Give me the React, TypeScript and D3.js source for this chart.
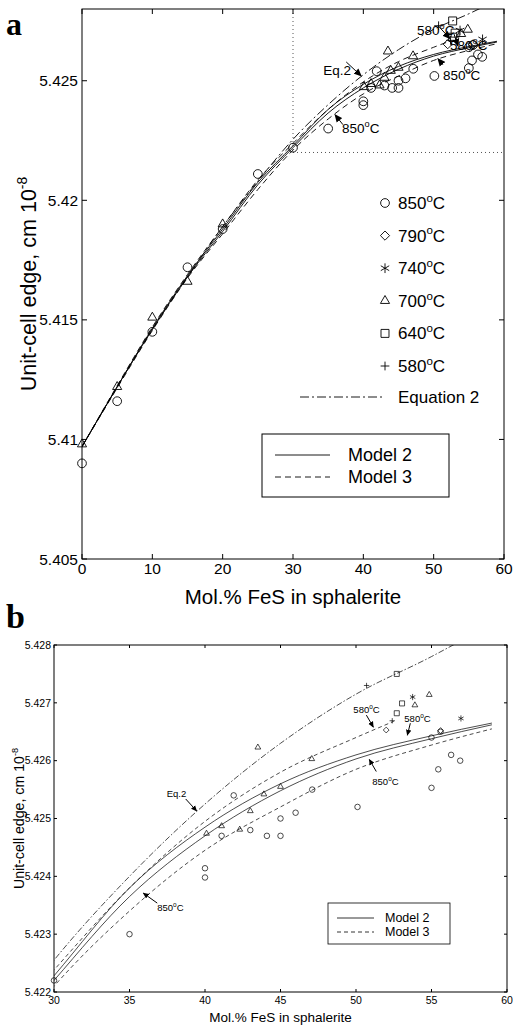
import React from 'react';
import * as d3 from 'd3';

type Pt = [number, number];

// model curves, x = mol.% FeS, y = unit-cell edge (cm 10^-8)
const model2_850: Pt[] = [[0, 5.4097], [5, 5.4122], [10, 5.4146], [15, 5.4168], [20, 5.4187], [25, 5.42065], [30, 5.4222], [35, 5.42365], [40, 5.4247], [45, 5.42548], [50, 5.42603], [55, 5.42638], [59, 5.42662]];
const model2_580: Pt[] = [[0, 5.4097], [5, 5.4122], [10, 5.41465], [15, 5.41685], [20, 5.4188], [25, 5.42075], [30, 5.42228], [35, 5.4238], [40, 5.42485], [45, 5.4256], [50, 5.4261], [55, 5.42643], [59, 5.42665]];
const model3_850: Pt[] = [[0, 5.4097], [5, 5.41215], [10, 5.41455], [15, 5.41675], [20, 5.4186], [25, 5.42045], [30, 5.4221], [35, 5.4234], [40, 5.42445], [45, 5.4252], [50, 5.42585], [55, 5.42627], [59, 5.42655]];
const model3_580: Pt[] = [[0, 5.4097], [5, 5.41225], [10, 5.4147], [15, 5.4169], [20, 5.4189], [25, 5.42085], [30, 5.42238], [35, 5.4238], [40, 5.42495], [45, 5.4258], [50, 5.4264], [52.5, 5.42668]];
const eq2: Pt[] = [[0, 5.4097], [5, 5.4122], [10, 5.4146], [15, 5.4168], [20, 5.4189], [25, 5.4208], [30, 5.42255], [35, 5.424], [40, 5.42525], [45, 5.4263], [50, 5.42715], [55, 5.4278], [57, 5.42808]];

// measured points by temperature
const pts850: Pt[] = [[0, 5.409], [5, 5.4116], [10, 5.4145], [15, 5.4172], [20, 5.4188], [25, 5.4211], [30, 5.4222], [35, 5.423], [40, 5.42414], [40, 5.42398], [41.1, 5.4247], [41.9, 5.4254], [43, 5.4248], [44.1, 5.4247], [45, 5.4247], [45, 5.425], [46, 5.4251], [47.1, 5.4255], [50.1, 5.4252], [55, 5.4264], [55.6, 5.4265], [56.3, 5.4261], [56.9, 5.426], [55.45, 5.42585], [55, 5.42553]];
const pts790: Pt[] = [[52, 5.42653], [55.6, 5.42652]];
const pts740: Pt[] = [[53.75, 5.4271], [56.95, 5.42673]];
const pts700: Pt[] = [[0, 5.4098], [5, 5.4122], [10, 5.4151], [15, 5.4166], [20, 5.419], [40.1, 5.42474], [41.1, 5.42487], [42.3, 5.42481], [43, 5.42513], [43.9, 5.42542], [45, 5.42555], [43.5, 5.42623], [47.07, 5.42603], [53.9, 5.42696], [54.85, 5.42714]];
const pts640: Pt[] = [[52.7, 5.4275], [53.05, 5.42699], [52.7, 5.42682]];
const pts580: Pt[] = [[50.7, 5.4273], [52.4, 5.42669]];

const temps = ['850', '790', '740', '700', '640', '580'];

const xTicksA = [0, 10, 20, 30, 40, 50, 60];
const yTicksA = [5.405, 5.41, 5.415, 5.42, 5.425];
const xTicksB = [30, 35, 40, 45, 50, 55, 60];
const yTicksB = [5.422, 5.423, 5.424, 5.425, 5.426, 5.427, 5.428];

// arrow labels: tip in data units, text and tail offsets in px
const notesA = [
  { label: 'Eq.2', tip: [39.7, 5.4252], text: [-38, -1], from: [-15, -14] },
  { label: '850', tip: [35.97, 5.42358], text: [7, 18], from: [8, 10] },
  { label: '850', tip: [50.6, 5.42592], text: [5, 21], from: [5, 6] },
  { label: '580', tip: [52.33, 5.42676], text: [-33, -4], from: [-12, -13] },
  { label: '580', tip: [53.46, 5.42645], text: [-8, 4], from: [-4, -12] },
];
const notesB = [
  { label: 'Eq.2', tip: [39.45, 5.42513], text: [-30, -14], from: [-11, -12] },
  { label: '850', tip: [35.91, 5.42371], text: [14, 18], from: [14, 10] },
  { label: '580', tip: [51.15, 5.42658], text: [-20, -14], from: [-7, -12] },
  { label: '580', tip: [53.4, 5.42644], text: [-3, -13], from: [3, -12] },
  { label: '850', tip: [50.88, 5.42602], text: [3, 25], from: [7, 12] },
];

const FONT = '"Liberation Sans", Arial, Helvetica, sans-serif';

const symbols: Record<string, d3.SymbolType> = {
  '850': d3.symbolCircle,
  '790': d3.symbolDiamond2,
  '740': d3.symbolAsterisk,
  '700': d3.symbolTriangle2,
  '640': d3.symbolSquare2,
  '580': d3.symbolPlus,
};
// d3's stroke symbols differ in apparent size, even them out
const symScale: Record<string, number> = { '850': 1, '790': 0.9, '740': 1.1, '700': 1, '640': 1.35, '580': 0.45 };
const seriesPts: Record<string, Pt[]> = { '850': pts850, '790': pts790, '740': pts740, '700': pts700, '640': pts640, '580': pts580 };

const symPath = (t: string, size: number) => d3.symbol().type(symbols[t]).size(size * symScale[t])() || '';

const deg = (n: string, fs: number) => (
  <>
    {n}
    <tspan dy={-fs * 0.42} fontSize={fs * 0.68}>o</tspan>
    <tspan dy={fs * 0.42}>C</tspan>
  </>
);

function panel(o: any) {
  const { id, x, y, xTicks, yTicks, tick, tickFs, labFs, xTickY, yTickGap, xLabY, yLabX, sym, sw, dash, dashDot, notes, noteFs, arrow } = o;
  const [x0, x1] = x.range();
  const [y0, y1] = y.range(); // y0 bottom
  const line = d3.line<Pt>().x(d => x(d[0])).y(d => y(d[1])).curve(d3.curveMonotoneX);
  const curves = [
    { d: model2_850, da: undefined },
    { d: model2_580, da: undefined },
    { d: model3_850, da: dash },
    { d: model3_580, da: dash },
    { d: eq2, da: dashDot },
  ];
  const [dx0, dx1] = x.domain();
  const [dy0, dy1] = y.domain();
  return (
    <g key={id}>
      <clipPath id={`clip-${id}`}>
        <rect x={x0} y={y1} width={x1 - x0} height={y0 - y1} />
      </clipPath>
      <g clipPath={`url(#clip-${id})`} fill="none" stroke="#000" strokeWidth={sw}>
        {curves.map((c, i) => (
          <path key={i} d={line(c.d) || ''} strokeDasharray={c.da} />
        ))}
      </g>
      {temps.map(t =>
        seriesPts[t]
          .filter(p => p[0] >= dx0 && p[0] <= dx1 && p[1] >= dy0 && p[1] <= dy1)
          .map((p, i) => (
            <path key={t + i} d={symPath(t, sym)}
              transform={`translate(${x(p[0])},${y(p[1])})`} fill="none" stroke="#000" strokeWidth={sw} />
          ))
      )}
      <rect x={x0} y={y1} width={x1 - x0} height={y0 - y1} fill="none" stroke="#000" strokeWidth={1} />
      <g stroke="#000" strokeWidth={1}>
        {xTicks.map((v: number) => (
          <g key={'xt' + v}>
            <line x1={x(v)} x2={x(v)} y1={y0} y2={y0 - tick} />
            <line x1={x(v)} x2={x(v)} y1={y1} y2={y1 + tick} />
          </g>
        ))}
        {yTicks.map((v: number) => (
          <g key={'yt' + v}>
            <line x1={x0} x2={x0 + tick} y1={y(v)} y2={y(v)} />
            <line x1={x1} x2={x1 - tick} y1={y(v)} y2={y(v)} />
          </g>
        ))}
      </g>
      <g fontFamily={FONT} fontSize={tickFs} fill="#000">
        {xTicks.map((v: number) => (
          <text key={'xl' + v} x={x(v)} y={xTickY} textAnchor="middle">{v}</text>
        ))}
        {yTicks.map((v: number) => (
          <text key={'yl' + v} x={x0 - yTickGap} y={y(v)} dy="0.36em" textAnchor="end">{String(v)}</text>
        ))}
      </g>
      <g fontFamily={FONT} fontSize={noteFs} fill="#000">
        {notes.map((n: any, i: number) => {
          const tx = x(n.tip[0]);
          const ty = y(n.tip[1]);
          return (
            <g key={i}>
              <line x1={tx + n.from[0]} y1={ty + n.from[1]} x2={tx} y2={ty} stroke="#000" strokeWidth={1} markerEnd={`url(#${arrow})`} />
              <text x={tx + n.text[0]} y={ty + n.text[1]}>{n.label === 'Eq.2' ? 'Eq.2' : deg(n.label, noteFs)}</text>
            </g>
          );
        })}
      </g>
      <text x={(x0 + x1) / 2} y={xLabY} textAnchor="middle" fontFamily={FONT} fontSize={labFs}>Mol.% FeS in  sphalerite</text>
      <text transform={`translate(${yLabX},${(y0 + y1) / 2}) rotate(-90)`} textAnchor="middle" fontFamily={FONT} fontSize={labFs * 1.05}>
        Unit-cell edge, cm  10<tspan dy={-labFs * 0.45} fontSize={labFs * 0.68}>-8</tspan>
      </text>
    </g>
  );
}

export default function App() {
  const xA = d3.scaleLinear().domain([0, 60]).range([82, 504]);
  const yA = d3.scaleLinear().domain([5.405, 5.428]).range([559, 9]);
  const xB = d3.scaleLinear().domain([30, 60]).range([54, 507]);
  const yB = d3.scaleLinear().domain([5.422, 5.428]).range([992, 645]);

  return (
    <svg width={513} height={1026} style={{ position: 'absolute', left: 0, top: 0, background: '#fff' }}>
      <defs>
        <marker id="arrA" viewBox="0 0 10 10" refX="9" refY="5" markerWidth="8" markerHeight="8" orient="auto" markerUnits="userSpaceOnUse">
          <path d="M0,0.5 L10,5 L0,9.5 Z" fill="#000" />
        </marker>
        <marker id="arrB" viewBox="0 0 10 10" refX="9" refY="5" markerWidth="6" markerHeight="6" orient="auto" markerUnits="userSpaceOnUse">
          <path d="M0,0.5 L10,5 L0,9.5 Z" fill="#000" />
        </marker>
      </defs>
      <rect width={513} height={1026} fill="#fff" />

      <text x={6} y={35} fontFamily='"Liberation Serif", "Times New Roman", serif' fontWeight="bold" fontSize={32}>a</text>
      <text x={6} y={628} fontFamily='"Liberation Serif", "Times New Roman", serif' fontWeight="bold" fontSize={34}>b</text>

      {/* zoom window of panel b */}
      <g stroke="#555" strokeWidth={1} strokeDasharray="1,3" fill="none">
        <line x1={xA(30)} x2={xA(30)} y1={yA(5.428)} y2={yA(5.422)} />
        <line x1={xA(30)} x2={xA(60)} y1={yA(5.422)} y2={yA(5.422)} />
      </g>

      {panel({
        id: 'a', x: xA, y: yA, xTicks: xTicksA, yTicks: yTicksA, tick: 5, tickFs: 15.5, labFs: 20.5,
        xTickY: 574, yTickGap: 4, xLabY: 604, yLabX: 36, sym: 60, sw: 0.9,
        dash: '6,4', dashDot: '9,3,2,3', notes: notesA, noteFs: 13.5, arrow: 'arrA',
      })}

      {/* temperature legend, panel a */}
      <g fontFamily={FONT} fontSize={17} fill="#000">
        {temps.map((t, i) => {
          const cy = 203 + i * 32.6;
          return (
            <g key={t}>
              <path d={symPath(t, 60)} transform={`translate(385,${cy})`} fill="none" stroke="#000" strokeWidth={0.9} />
              <text x={398} y={cy + 6}>{deg(t, 17)}</text>
            </g>
          );
        })}
        <line x1={300} x2={383} y1={397} y2={397} stroke="#000" strokeWidth={0.9} strokeDasharray="9,3,2,3" />
        <text x={398} y={403}>Equation 2</text>
      </g>

      {/* model legend, panel a */}
      <g fontFamily={FONT} fontSize={18}>
        <rect x={262} y={434} width={187} height={63} fill="#fff" stroke="#000" />
        <line x1={275} x2={330} y1={455} y2={455} stroke="#000" strokeWidth={0.9} />
        <line x1={275} x2={330} y1={477} y2={477} stroke="#000" strokeWidth={0.9} strokeDasharray="6,4" />
        <text x={348} y={461}>Model 2</text>
        <text x={348} y={483}>Model 3</text>
      </g>

      {panel({
        id: 'b', x: xB, y: yB, xTicks: xTicksB, yTicks: yTicksB, tick: 3, tickFs: 10.5, labFs: 13.5,
        xTickY: 1004, yTickGap: 3, xLabY: 1022, yLabX: 24, sym: 24, sw: 0.7,
        dash: '4,3', dashDot: '6,2,1.5,2', notes: notesB, noteFs: 9.5, arrow: 'arrB',
      })}

      {/* model legend, panel b */}
      <g fontFamily={FONT} fontSize={12.5}>
        <rect x={328} y={903} width={122} height={41} fill="#fff" stroke="#000" strokeWidth={0.8} />
        <line x1={337} x2={374} y1={918} y2={918} stroke="#000" strokeWidth={0.8} />
        <line x1={337} x2={374} y1={932} y2={932} stroke="#000" strokeWidth={0.8} strokeDasharray="4,3" />
        <text x={385} y={922}>Model 2</text>
        <text x={385} y={936}>Model 3</text>
      </g>
    </svg>
  );
}
